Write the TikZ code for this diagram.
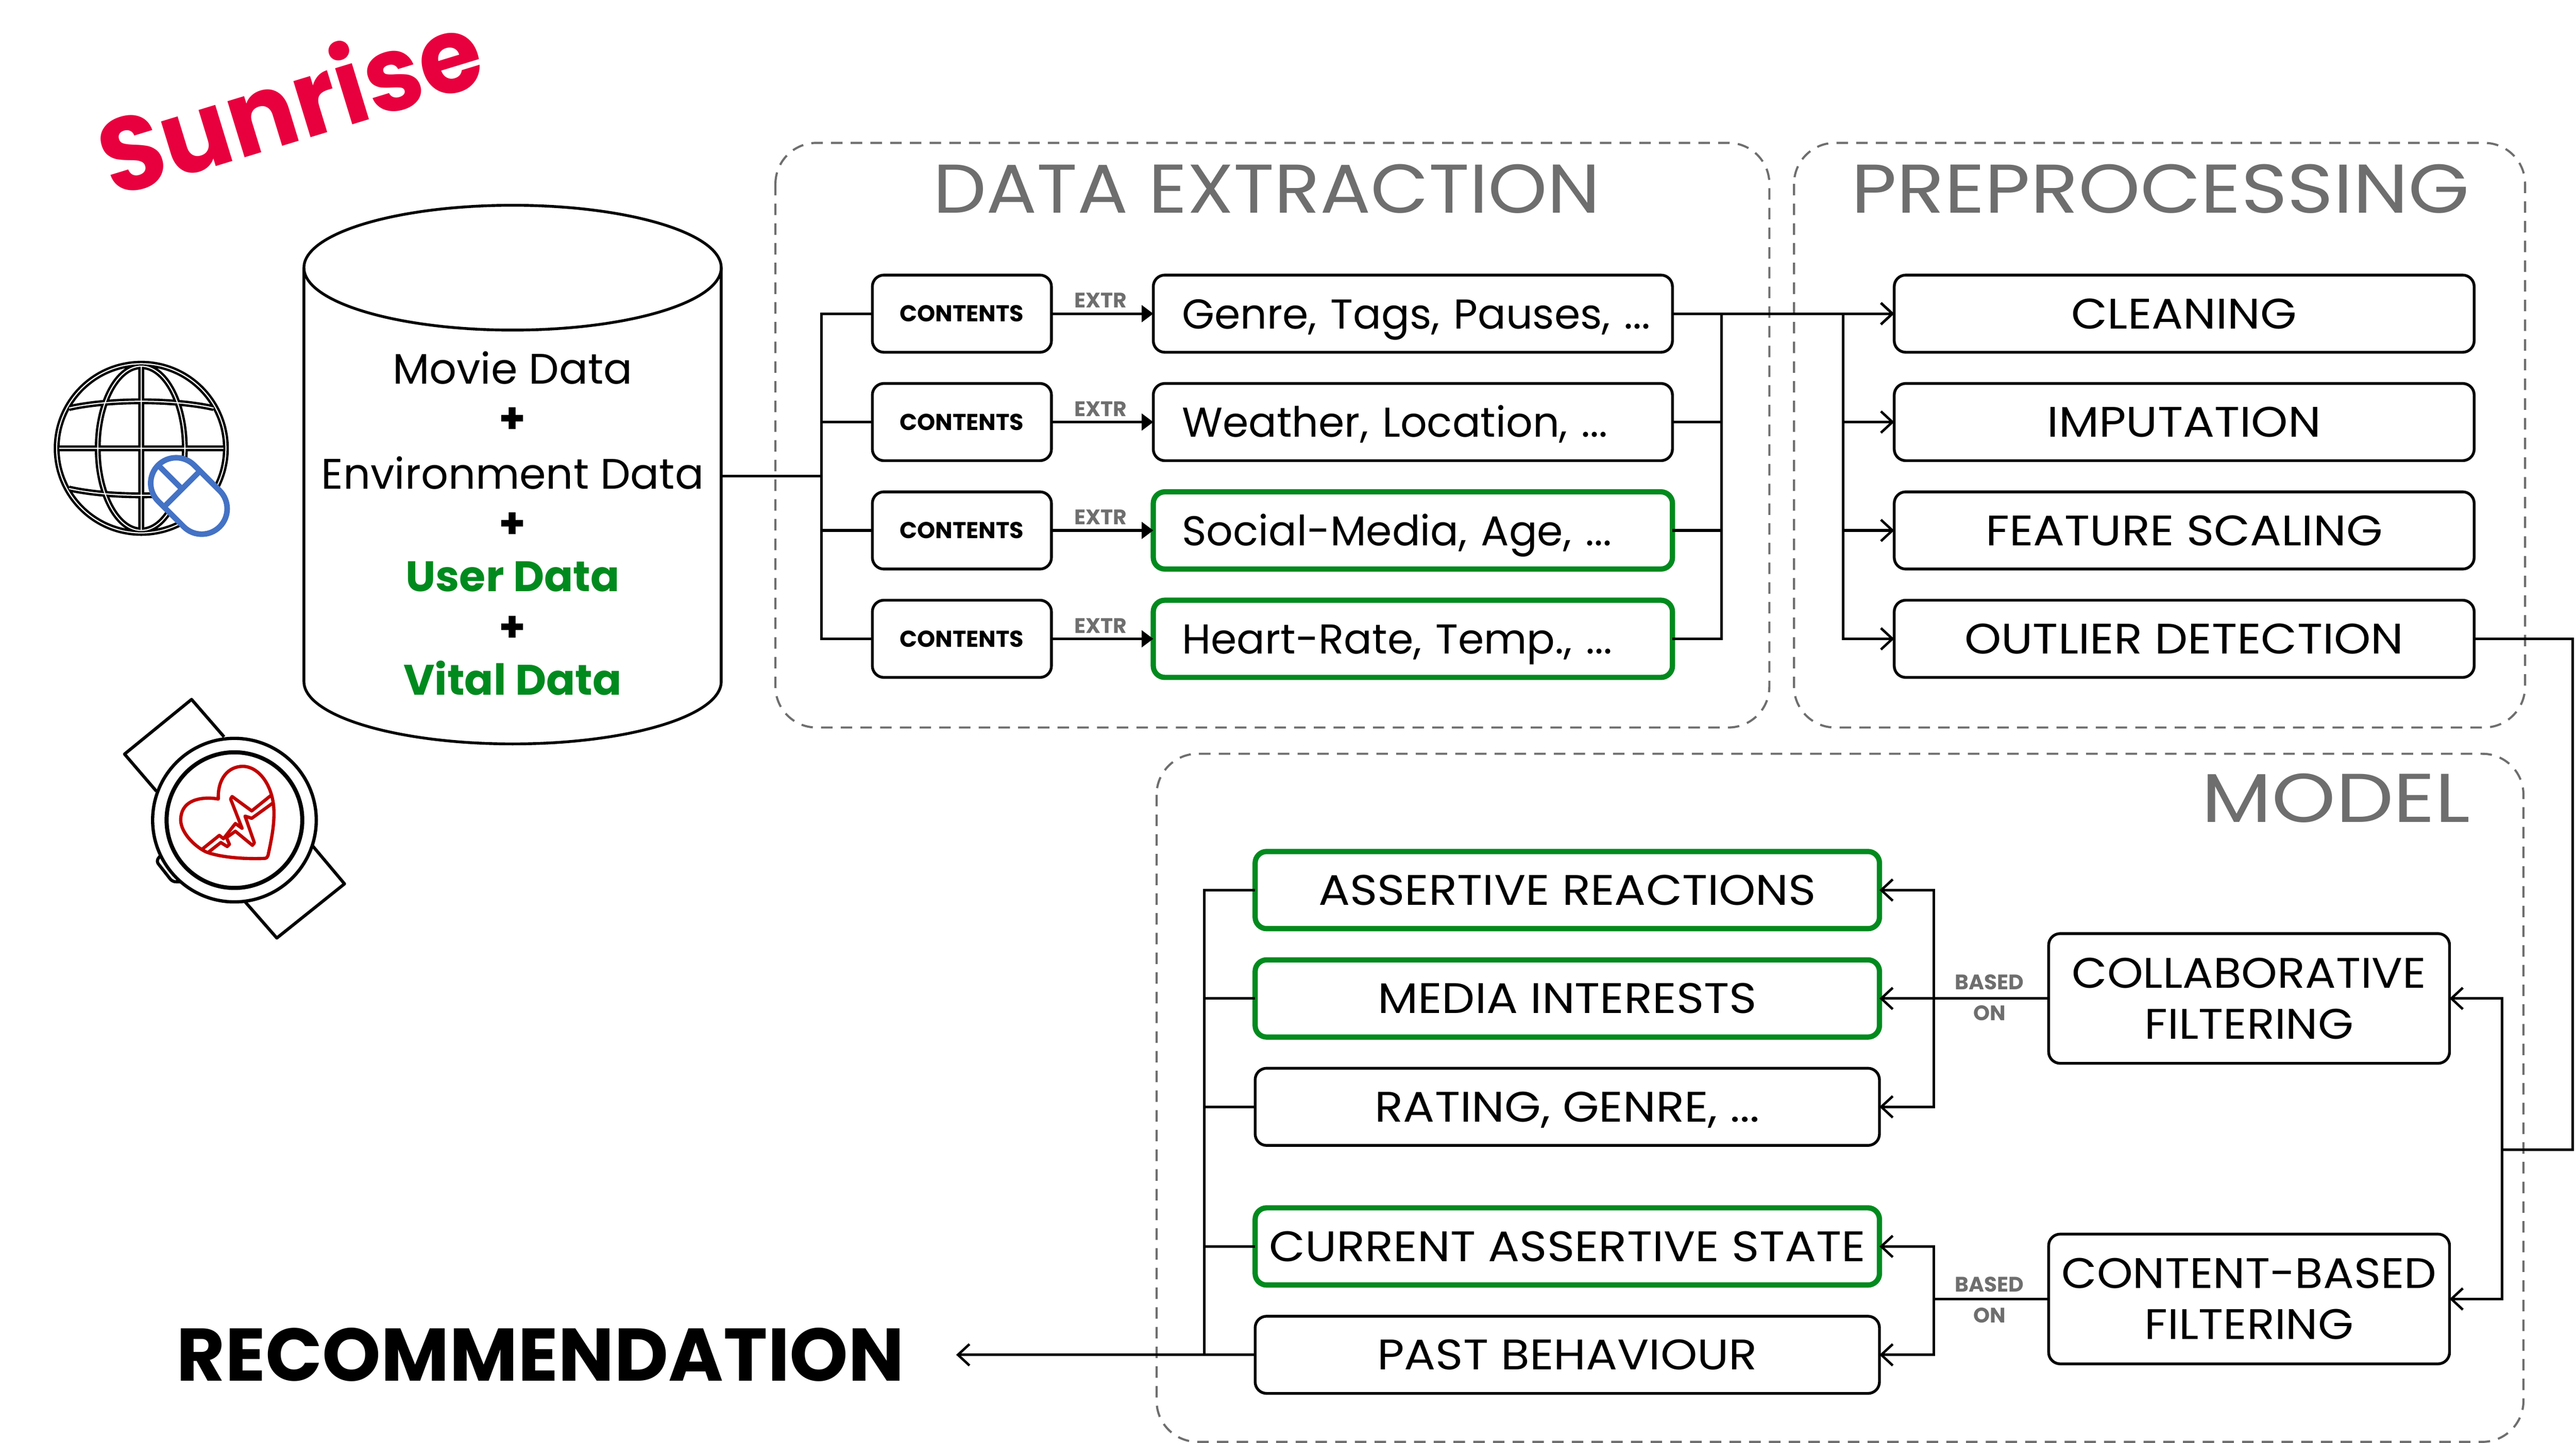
\documentclass[tikz,border=0pt]{standalone}
\usepackage{fontspec}
\usepackage{xcolor}
\setmainfont{Poppins}
\newfontfamily\capsfont[FakeStretch=1.095]{Poppins}
\newfontfamily\filterfont[FakeStretch=1.07]{Poppins}
\newfontfamily\datatitlefont[FakeStretch=1.09]{Poppins}
\newfontfamily\preptitlefont[FakeStretch=1.14]{Poppins}
\newfontfamily\modeltitlefont[FakeStretch=1.18]{Poppins}
\newfontfamily\logofont[FakeStretch=.97]{Poppins}
\usetikzlibrary{arrows.meta}

\definecolor{okgreen}{HTML}{008A1E}
\definecolor{panelgray}{HTML}{6E6E6E}
\definecolor{sunred}{HTML}{E8003E}
\definecolor{mouseblue}{HTML}{4472C4}
\definecolor{heartred}{HTML}{C00000}

\tikzset{
    panel/.style={draw=panelgray, line width=1.3pt, dash pattern=on 7pt off 5pt, rounded corners=25pt},
    paneltitle/.style={text=panelgray},
    boxbase/.style={draw, line width=1.7pt, rounded corners=7pt, minimum height=47pt, inner sep=0pt, outer sep=0pt},
    smallbox/.style={boxbase, minimum width=109pt, font=\fontsize{14}{14}\selectfont\bfseries},
    infobox/.style={boxbase, minimum width=316pt, text width=281pt, text height=18.2pt, text depth=0pt, align=left, font=\fontsize{25.4}{30}\selectfont},
    stepbox/.style={boxbase, minimum width=353pt, text height=18.2pt, text depth=0pt, font=\fontsize{26}{30}\selectfont\capsfont},
    outbox/.style={boxbase, minimum width=380pt, text height=18.2pt, text depth=0pt, font=\fontsize{26}{30}\selectfont\capsfont},
    filterbox/.style={boxbase, minimum width=244pt, minimum height=79pt, align=center, font=\fontsize{26}{31}\selectfont\filterfont},
    userside/.style={draw=okgreen, line width=3.2pt},
    smalllabel/.style={text=panelgray, inner sep=0pt, font=\fontsize{12.8}{13}\selectfont\bfseries},
    dbtext/.style={inner sep=0pt, font=\fontsize{26}{26}\selectfont},
    conn/.style={line width=1.6pt},
    openarrow/.style={conn, -{Straight Barb[length=7pt, width=13pt, line width=1.5pt]}},
    solidarrow/.style={conn, -{Triangle[length=7pt, width=10pt]}}
}

\begin{document}
\begin{tikzpicture}[x=1pt, y=-1pt]
    \useasboundingbox (0,0) rectangle (1568,878.6);

    % Logo
    \node[rotate=17, text=sunred, font=\fontsize{64}{64}\selectfont\logofont\bfseries] (logo) at (176,61) {Sunrise};

    % Database
    \draw[line width=1.7pt] (185,163) -- (185,415) arc[start angle=180, end angle=360, x radius=127pt, y radius=38pt] -- (439,163);
    \draw[line width=1.7pt] (312,163) ellipse [x radius=127pt, y radius=38pt];
    \node[dbtext] (dbmovie) at (312,224) {Movie Data};
    \node[dbtext] (dbplusa) at (312,256) {\textbf{+}};
    \node[dbtext] (dbenv) at (312,288) {Environment Data};
    \node[dbtext] (dbplusb) at (312,320) {\textbf{+}};
    \node[dbtext, text=okgreen, font=\fontsize{26}{26}\selectfont\bfseries] (dbuser) at (312,351) {User Data};
    \node[dbtext] (dbplusc) at (312,383) {\textbf{+}};
    \node[dbtext, text=okgreen, font=\fontsize{26}{26}\selectfont\bfseries] (dbvital) at (312,413) {Vital Data};
    \coordinate (dbout) at (439,290);

    % Globe
    \newcommand{\globepaths}{
        (0,0) circle (51.5)
        (0,-50) -- (0,50) (-50,0) -- (50,0)
        (0,0) ellipse [x radius=26.5, y radius=50]
        (-44,-24.5) .. controls (-20,-30) and (20,-30) .. (44,-24.5)
        (-44,24.5) .. controls (-20,30) and (20,30) .. (44,24.5)
    }
    \begin{scope}[shift={(86,273)}]
        \draw[line width=3.6pt] \globepaths;
        \draw[white, line width=.7pt] \globepaths;
    \end{scope}

    % Mouse
    \begin{scope}[shift={(115,302)}, rotate=-45, draw=mouseblue, line width=3.4pt]
        \draw[fill=white, rounded corners=15.5pt] (-26.5,-15.5) rectangle (26.5,15.5);
        \draw (-6,-15.5) -- (-6,15.5);
        \draw (-26.5,0) -- (-6,0);
    \end{scope}

    % Watch
    \draw[line width=1.9pt, line join=round] (136.4,448.7) -- (116.6,425.9) -- (75.8,459.2) -- (95.2,481.8);
    \draw[line width=1.9pt, line join=round] (190.3,515.1) -- (209.7,538.2) -- (168.5,571.2) -- (148.8,548.7);
    \draw[line width=1.9pt, rounded corners=2pt] (97.9,520.6) -- (95.1,524.4) -- (104.9,536.9) -- (110,537);
    \draw[line width=2pt, fill=white] (142.7,499.4) circle (49.8);
    \draw[line width=2.5pt] (142.7,499.4) circle (41.3);
    \begin{scope}[shift={(104.4pt,-460.8pt)}, x=0.0904pt, y=-0.0904pt, draw=heartred, line width=2pt, line join=round]
        \draw (315,285) .. controls (240,270) and (60,270) .. (62,430) .. controls (65,510) and (150,600) .. (230,640) .. controls (330,680) and (500,690) .. (625,685) .. controls (640,685) and (648,675) .. (650,665) .. controls (670,570) and (690,480) .. (690,380) .. controls (690,200) and (590,65) .. (480,65) .. controls (380,65) and (310,150) .. (315,285) -- cycle;
        \draw (210,620) -- (322,530) -- (350,552) -- (430,450) -- (475,482) -- (398,285) -- (408,268) -- (540,365) -- (668,262);
        \draw (250,642) -- (332,578) -- (375,605) -- (390,590) -- (370,545) -- (430,502) -- (545,597) -- (558,580) -- (495,400) -- (540,415) -- (682,312);
    \end{scope}

    % Panels
    \draw[panel] (472,87) rectangle (1077,443);
    \draw[panel] (1092,87) rectangle (1537,443);
    \draw[panel] (704,459) rectangle (1536,878);
    \node[paneltitle, font=\fontsize{42}{42}\selectfont\datatitlefont] (titledata) at (771,115) {DATA EXTRACTION};
    \node[paneltitle, font=\fontsize{42}{42}\selectfont\preptitlefont] (titleprep) at (1315,115) {PREPROCESSING};
    \node[paneltitle, font=\fontsize{42}{42}\selectfont\modeltitlefont] (titlemodel) at (1422,486) {MODEL};

    % Data extraction
    \node[smallbox] (contenta) at (585.5,191) {CONTENTS};
    \node[smallbox] (contentb) at (585.5,257) {CONTENTS};
    \node[smallbox] (contentc) at (585.5,323) {CONTENTS};
    \node[smallbox] (contentd) at (585.5,389) {CONTENTS};
    \node[infobox] (infoa) at (860,191) {\mbox{Genre, Tags, Pauses, ...}};
    \node[infobox] (infob) at (860,257) {Weather, Location, ...};
    \node[infobox, userside] (infoc) at (860,323) {Social-Media, Age, ...};
    \node[infobox, userside] (infod) at (860,389) {Heart-Rate, Temp., ...};
    \node[smalllabel] (extra) at (670,183) {EXTR};
    \node[smalllabel] (extrb) at (670,249) {EXTR};
    \node[smalllabel] (extrc) at (670,315) {EXTR};
    \node[smalllabel] (extrd) at (670,381) {EXTR};

    % Preprocessing
    \node[stepbox] (clean) at (1329.5,191) {CLEANING};
    \node[stepbox] (impute) at (1329.5,257) {IMPUTATION};
    \node[stepbox] (scale) at (1329.5,323) {FEATURE SCALING};
    \node[stepbox] (outlier) at (1329.5,389) {OUTLIER DETECTION};

    % Model
    \node[outbox, userside] (assertive) at (954,542) {ASSERTIVE REACTIONS};
    \node[outbox, userside] (media) at (954,608) {MEDIA INTERESTS};
    \node[outbox] (rating) at (954,674) {RATING, GENRE, ...};
    \node[outbox, userside] (state) at (954,759) {CURRENT ASSERTIVE STATE};
    \node[outbox] (past) at (954,825) {PAST BEHAVIOUR};
    \node[filterbox] (collab) at (1369,608) {COLLABORATIVE\\FILTERING};
    \node[filterbox] (content) at (1369,791) {CONTENT-BASED\\FILTERING};
    \node[smalllabel] (baseda) at (1211,598) {BASED};
    \node[smalllabel] (ona) at (1211,617) {ON};
    \node[smalllabel] (basedb) at (1211,782) {BASED};
    \node[smalllabel] (onb) at (1211,801) {ON};

    % Recommendation
    \node[inner sep=0pt, font=\fontsize{45.4}{46}\selectfont\bfseries] (recommend) at (329,825) {RECOMMENDATION};
    \coordinate (recin) at (582,825);

    % Bus points
    \coordinate (busa) at (500,290);
    \coordinate (busb) at (1048,290);
    \coordinate (busc) at (1122,290);
    \coordinate (turn) at (1566,700);
    \coordinate (modelin) at (1523,700);
    \coordinate (busd) at (1177,608);
    \coordinate (buse) at (1177,791);
    \coordinate (busf) at (733,825);

    % Connectors
    \draw[conn] (dbout) -- (busa);
    \draw[conn] (contenta.west) -| (busa);
    \draw[conn] (contentb.west) -| (busa);
    \draw[conn] (contentc.west) -| (busa);
    \draw[conn] (contentd.west) -| (busa);
    \draw[solidarrow] (contenta) -- (infoa);
    \draw[solidarrow] (contentb) -- (infob);
    \draw[solidarrow] (contentc) -- (infoc);
    \draw[solidarrow] (contentd) -- (infod);
    \draw[conn] (infoa.east) -| (busb);
    \draw[conn] (infob.east) -| (busb);
    \draw[conn] (infoc.east) -| (busb);
    \draw[conn] (infod.east) -| (busb);
    \draw[openarrow] (infoa) -- (clean);
    \draw[openarrow] (busc) |- (clean.west);
    \draw[openarrow] (busc) |- (impute.west);
    \draw[openarrow] (busc) |- (scale.west);
    \draw[openarrow] (busc) |- (outlier.west);
    \draw[conn] (outlier.east) -| (turn) -- (modelin);
    \draw[openarrow] (modelin) |- (collab.east);
    \draw[openarrow] (modelin) |- (content.east);
    \draw[openarrow] (collab) -- (media);
    \draw[openarrow] (busd) |- (assertive.east);
    \draw[openarrow] (busd) |- (rating.east);
    \draw[conn] (content.west) -- (buse);
    \draw[openarrow] (buse) |- (state.east);
    \draw[openarrow] (buse) |- (past.east);
    \draw[conn] (assertive.west) -| (busf);
    \draw[conn] (media.west) -| (busf);
    \draw[conn] (rating.west) -| (busf);
    \draw[conn] (state.west) -| (busf);
    \draw[openarrow] (past) -- (recin);
\end{tikzpicture}
\end{document}
